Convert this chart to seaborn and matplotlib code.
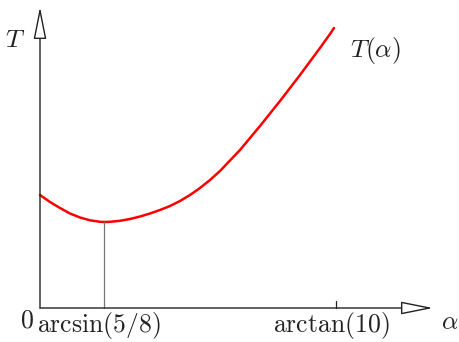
"""Sketch of T(alpha) with its minimum at arcsin(5/8) -> out.png"""
import matplotlib
matplotlib.use("Agg")
import matplotlib.pyplot as plt
import seaborn as sns
import pandas as pd

# schematic axis units (sketch is not to scale)
alpha = [0.00, 0.10, 0.20, 0.30, 0.40, 0.50, 0.60, 0.64, 0.70, 0.80, 0.90,
         1.00, 1.10, 1.20, 1.30, 1.40, 1.50, 1.60, 1.70, 1.80, 1.90, 2.00,
         2.10, 2.20, 2.30, 2.40, 2.50, 2.60, 2.70, 2.80, 2.90, 2.94]
T_vals = [1.13, 1.06, 1.00, 0.945, 0.905, 0.877, 0.862, 0.860, 0.862, 0.872, 0.89,
          0.915, 0.945, 0.98, 1.02, 1.07, 1.13, 1.20, 1.28, 1.37, 1.475, 1.58,
          1.70, 1.82, 1.945, 2.07, 2.20, 2.33, 2.465, 2.60, 2.74, 2.80]
alpha_min = 0.64       # arcsin(5/8)
alpha_max = 2.96       # arctan(10)
T_min = 0.86
x_end, y_end = 3.93, 3.01   # arrow tips of the axes

tick_pos = [alpha_min, alpha_max]
tick_lab = [r"$\arcsin(5/8)$", r"$\arctan(10)$"]

sns.set_style("white")
plt.rcParams["mathtext.fontset"] = "cm"

fig = plt.figure(figsize=(4.59, 3.42), dpi=100)
ax = fig.add_axes([0, 0, 1, 1])
ax.set_xlim(-0.40, 4.19)
ax.set_ylim(-0.34, 3.08)
ax.axis("off")

df = pd.DataFrame({"alpha": alpha, "T": T_vals})
sns.lineplot(data=df, x="alpha", y="T", color="#ff0000", lw=1.8, ax=ax, sort=False)

# axes with open arrow heads
arrow = dict(arrowstyle="-|>,head_length=1.0,head_width=0.2", fc="white",
             ec="#222222", lw=1.0, mutation_scale=20, shrinkA=0, shrinkB=0)
ax.annotate("", xy=(x_end, 0), xytext=(0, 0), arrowprops=arrow)
ax.annotate("", xy=(0, y_end), xytext=(0, 0), arrowprops=arrow)

# minimum marker and tick
ax.plot([alpha_min, alpha_min], [0, T_min], color="#777777", lw=0.9)
ax.plot([alpha_max, alpha_max], [0, 0.07], color="#222222", lw=0.9)

fs = 18.5
for p, lab in zip(tick_pos, tick_lab):
    ax.text(p - 0.05, -0.02, lab, ha="center", va="top", fontsize=fs, color="#222222")
ax.text(-0.13, -0.12, r"$0$", ha="center", va="center", fontsize=fs, color="#222222")
ax.text(4.10, -0.14, r"$\alpha$", ha="center", va="center", fontsize=fs, color="#222222")
ax.text(-0.25, 2.68, r"$T$", ha="center", va="center", fontsize=fs, color="#222222")
ax.text(3.35, 2.58, r"$T(\alpha)$", ha="center", va="center", fontsize=fs, color="#222222")

fig.savefig("out.png", dpi=100)
